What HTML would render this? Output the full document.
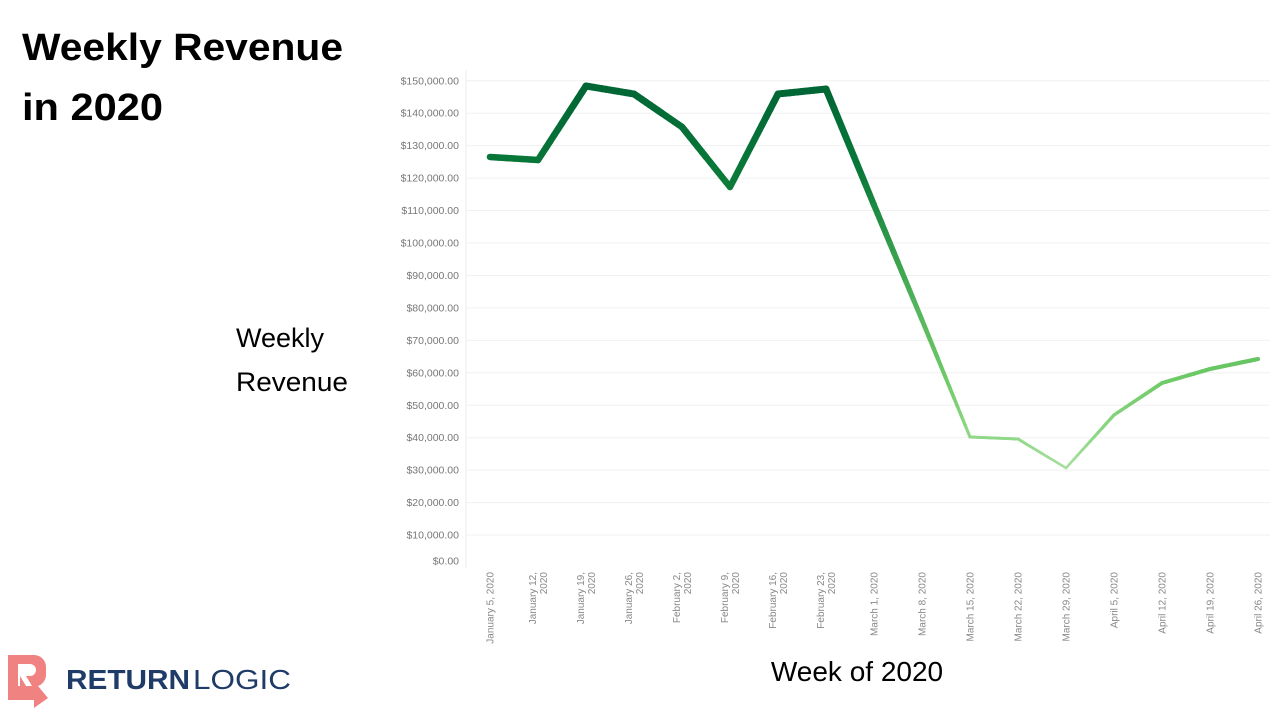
<!DOCTYPE html><html><head><style>body{margin:0;background:#fff;}svg{display:block}</style></head><body>
<svg id="s" width="1280" height="720" xmlns="http://www.w3.org/2000/svg" font-family="Liberation Sans, sans-serif">
<text x="22" y="60" font-size="38" font-weight="bold" fill="#000" textLength="321" lengthAdjust="spacingAndGlyphs">Weekly Revenue</text>
<text x="22" y="120" font-size="38" font-weight="bold" fill="#000" textLength="141" lengthAdjust="spacingAndGlyphs">in 2020</text>
<text x="236" y="347" font-size="27" fill="#000">Weekly</text>
<text x="236" y="391" font-size="27" fill="#000" textLength="112" lengthAdjust="spacingAndGlyphs">Revenue</text>
<text x="857" y="681" font-size="28" fill="#000" text-anchor="middle">Week of 2020</text>
<line x1="466" y1="70" x2="466" y2="568" stroke="#eee" stroke-width="1"/>
<g id="grid"></g><g id="xl"></g><g id="ln"></g>
<g>
<path d="M8 655 h26 a12 12 0 0 1 12 12 v8 a12 12 0 0 1 -8 11 l10 12 l-14 10 v-8 h-26 z" fill="#f08282"/>
<path d="M18 664 h12 a6 6 0 0 1 0 12 h-4 l6 10 h-6 l-6 -10 v10 h-2 z" fill="#fff"/>
<text x="66" y="689" font-size="28" font-weight="bold" fill="#1f3b68" textLength="124" lengthAdjust="spacingAndGlyphs">RETURN</text>
<text x="193" y="689" font-size="28" fill="#1f3b68" textLength="98" lengthAdjust="spacingAndGlyphs">LOGIC</text>
</g>
</svg>
<script>
const NS="http://www.w3.org/2000/svg";
function el(t,a,p,txt){const e=document.createElementNS(NS,t);for(const k in a)e.setAttribute(k,a[k]);if(txt)e.textContent=txt;document.getElementById(p).appendChild(e);return e;}
const yOf=v=>567.5-v/10000*32.45;
for(let i=0;i<=15;i++){const v=i*10000;let y=yOf(v);
 if(i>0)el('line',{x1:466,x2:1270,y1:y,y2:y,stroke:'#f0f0f0','stroke-width':1},'grid');
 el('text',{x:459,y:(i==0?561:y)+3.5,'font-size':10.5,fill:'#777','text-anchor':'end'},'grid','$'+v.toLocaleString('en-US')+'.00');}
const labs=[["January 5, 2020"],["January 12,","2020"],["January 19,","2020"],["January 26,","2020"],["February 2,","2020"],["February 9,","2020"],["February 16,","2020"],["February 23,","2020"],["March 1, 2020"],["March 8, 2020"],["March 15, 2020"],["March 22, 2020"],["March 29, 2020"],["April 5, 2020"],["April 12, 2020"],["April 19, 2020"],["April 26, 2020"]];
labs.forEach((l,i)=>{const x=490+i*48;
 if(l.length==1)el('text',{transform:`translate(${x+3.5},572) rotate(-90)`,'font-size':10,fill:'#888','text-anchor':'end'},'xl',l[0]);
 else{el('text',{transform:`translate(${x-2},572) rotate(-90)`,'font-size':10,fill:'#888','text-anchor':'end'},'xl',l[0]);
 el('text',{transform:`translate(${x+9},572) rotate(-90)`,'font-size':10,fill:'#888','text-anchor':'end'},'xl',l[1]);}});
const ys=[157,160,86,94,127,187,94,89,205,320,437,439,468,415,383,369,359];
const stops=[[30,[168,224,160],2.5],[40,[144,216,136],3],[60,[108,200,100],4],[80,[82,180,92],5],[100,[47,154,72],5.8],[120,[10,122,58],6.5],[150,[0,100,52],7]];
function sty(y){const v=(567.5-y)/32.45*10;let a=stops[0],b=stops[stops.length-1];
 if(v<=a[0])return[a[1],a[2]];if(v>=b[0])return[b[1],b[2]];
 for(let i=0;i<stops.length-1;i++)if(v>=stops[i][0]&&v<=stops[i+1][0]){a=stops[i];b=stops[i+1];break;}
 const t=(v-a[0])/(b[0]-a[0]);return[a[1].map((c,j)=>Math.round(c+(b[1][j]-c)*t)),a[2]+(b[2]-a[2])*t];}
for(let i=0;i<ys.length-1;i++){const x0=490+i*48,y0=ys[i],y1=ys[i+1];const N=12;
 for(let k=0;k<N;k++){const ta=k/N,tb=(k+1)/N;const ym=y0+(y1-y0)*(ta+tb)/2;const[c,w]=sty(ym);
  el('line',{x1:x0+48*ta,y1:y0+(y1-y0)*ta,x2:x0+48*tb,y2:y0+(y1-y0)*tb,stroke:`rgb(${c})`,'stroke-width':w,'stroke-linecap':'round'},'ln');}}
</script>
</body></html>
